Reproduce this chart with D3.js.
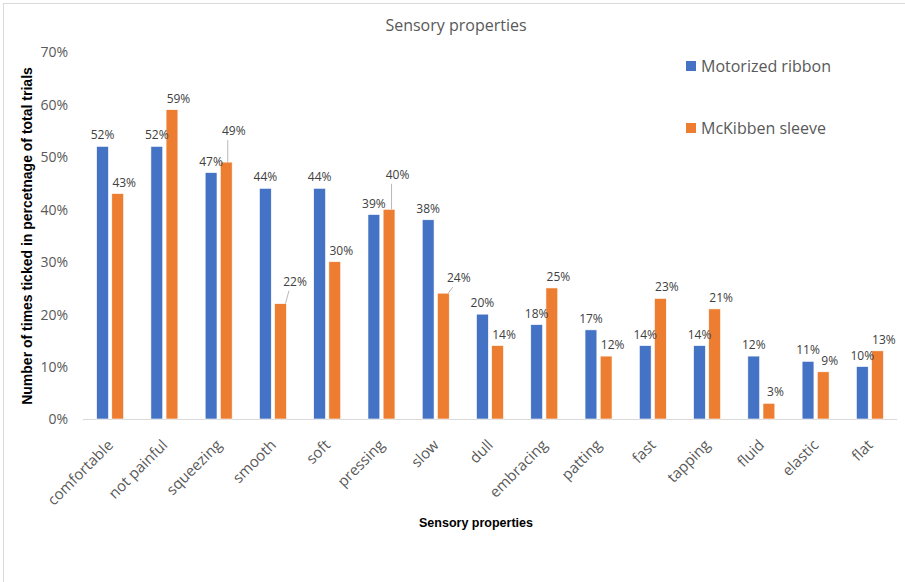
<!DOCTYPE html>
<html>
<head>
<meta charset="utf-8">
<script src="https://cdn.jsdelivr.net/npm/d3@7"></script>
<style>
  html, body { margin: 0; padding: 0; background: #fff; }
  svg { display: block; }
</style>
</head>
<body>
<svg id="chart" width="905" height="582"></svg>
<script>
// ---- data ----
const categories = ["comfortable", "not painful", "squeezing", "smooth", "soft", "pressing", "slow",
  "dull", "embracing", "patting", "fast", "tapping", "fluid", "elastic", "flat"];
const seriesNames = ["Motorized ribbon", "McKibben sleeve"];
const motorizedRibbon = [52, 52, 47, 44, 44, 39, 38, 20, 18, 17, 14, 14, 12, 11, 10];
const mckibbenSleeve  = [43, 59, 49, 22, 30, 40, 24, 14, 25, 12, 23, 21, 3, 9, 13];
const yTicks = [0, 10, 20, 30, 40, 50, 60, 70];
const seriesColors = ["#4472C4", "#ED7D31"];

// label nudges for the labels that Excel moved (with leader lines), in px
const labelNudge = { 1: { "squeezing": [1, -20], "smooth": [8, -11], "pressing": [2, -23.5], "slow": [9, -4] } };

const values = [motorizedRibbon, mckibbenSleeve];
const rows = categories.map((c, i) => ({ cat: c, vals: values.map(v => v[i]) }));

const svg = d3.select("#chart");
const font = "'Open Sans', 'Liberation Sans', sans-serif";
const boldFont = "'Liberation Sans', Arial, sans-serif";

// chart border
svg.append("rect").attr("x", 3.5).attr("y", 3.5).attr("width", 920).attr("height", 620)
  .attr("fill", "none").attr("stroke", "#d9d9d9").attr("stroke-width", 1);

const plot = { left: 83, right: 897, top: 52, bottom: 419 };

const x0 = d3.scaleBand().domain(categories).range([plot.left, plot.right]).paddingInner(0).paddingOuter(0);
const x1 = d3.scaleBand().domain([0, 1]).range([0, x0.bandwidth()]).paddingInner(0.22).paddingOuter(0.9);
const y = d3.scaleLinear().domain([0, 70]).range([plot.bottom, plot.top]);

// title
svg.append("text").attr("x", 456).attr("y", 31).attr("text-anchor", "middle")
  .attr("font-family", font).attr("font-size", 16).attr("fill", "#595959").text("Sensory properties");

// y axis (labels only)
const yAxis = d3.axisLeft(y).tickValues(yTicks).tickFormat(d => d + "%").tickSize(0).tickPadding(0);
const yG = svg.append("g").attr("transform", `translate(${plot.left - 15},0)`).call(yAxis);
yG.select(".domain").remove();
yG.selectAll("text").attr("font-family", font).attr("font-size", 14).attr("fill", "#595959").attr("dy", "0.35em");

// baseline
svg.append("line").attr("x1", plot.left).attr("x2", plot.right).attr("y1", plot.bottom + 0.5).attr("y2", plot.bottom + 0.5)
  .attr("stroke", "#d9d9d9").attr("stroke-width", 1);

// bars
const groups = svg.append("g").selectAll("g").data(rows).join("g")
  .attr("transform", d => `translate(${x0(d.cat)},0)`);
groups.selectAll("rect").data(d => d.vals.map((v, s) => ({ v, s, cat: d.cat }))).join("rect")
  .attr("x", d => x1(d.s)).attr("width", x1.bandwidth())
  .attr("y", d => y(d.v)).attr("height", d => y(0) - y(d.v))
  .attr("fill", d => seriesColors[d.s]).attr("stroke", "#fff").attr("stroke-width", 0.6);

// data labels
const labelData = [];
rows.forEach(r => r.vals.forEach((v, s) => {
  const bx = x0(r.cat) + x1(s);
  const cx = bx + x1.bandwidth() / 2;
  const top = y(v);
  let lx = cx + (s === 1 ? 6.5 : 0), ly = top - 7;
  const nudge = labelNudge[s] && labelNudge[s][r.cat];
  if (nudge) { lx += nudge[0]; ly += nudge[1]; }
  labelData.push({ v, s, cx, top, lx, ly, nudge, bl: bx, br: bx + x1.bandwidth() });
}));
svg.append("g").selectAll("line").data(labelData.filter(d => d.nudge)).join("line")
  .attr("x2", d => d.lx - 6).attr("y2", d => d.ly + 5)
  .attr("x1", d => { const ex = d.lx - 6; return (ex >= d.bl && ex <= d.br) ? ex : (ex > d.br ? Math.min(d.br, Math.max(d.cx, d.br - 1)) : d.cx); })
  .attr("y1", d => d.top)
  .attr("stroke", "#a6a6a6").attr("stroke-width", 0.8);
svg.append("g").selectAll("text").data(labelData).join("text")
  .attr("x", d => d.lx).attr("y", d => d.ly).attr("text-anchor", "middle")
  .attr("font-family", font).attr("font-size", 12).attr("fill", "#404040")
  .text(d => d.v + "%");

// x axis labels (rotated)
const xAxis = d3.axisBottom(x0).tickSize(0).tickPadding(0);
const xG = svg.append("g").attr("transform", `translate(0,${plot.bottom})`).call(xAxis);
xG.select(".domain").remove();
xG.selectAll("text")
  .attr("font-family", font).attr("font-size", 15).attr("fill", "#595959")
  .attr("text-anchor", "end").attr("dy", 0).attr("y", 0)
  .attr("transform", "translate(4,27) rotate(-45)");

// axis titles
svg.append("text").attr("x", 476).attr("y", 527).attr("text-anchor", "middle")
  .attr("font-family", boldFont).attr("font-weight", "bold").attr("font-size", 12.5)
  .attr("fill", "#000").text("Sensory properties");
svg.append("text").attr("transform", "translate(32,236) rotate(-90)").attr("text-anchor", "middle")
  .attr("font-family", boldFont).attr("font-weight", "bold").attr("font-size", 14)
  .attr("fill", "#000").text("Number of times ticked in percetnage of total trials");

// legend
const legend = svg.append("g").selectAll("g").data(seriesNames).join("g")
  .attr("transform", (d, i) => `translate(686,${61 + i * 62})`);
legend.append("rect").attr("width", 10).attr("height", 10).attr("fill", (d, i) => seriesColors[i]);
legend.append("text").attr("x", 15).attr("y", 11).attr("font-family", font).attr("font-size", 16)
  .attr("fill", "#595959").text(d => d);
</script>
</body>
</html>
